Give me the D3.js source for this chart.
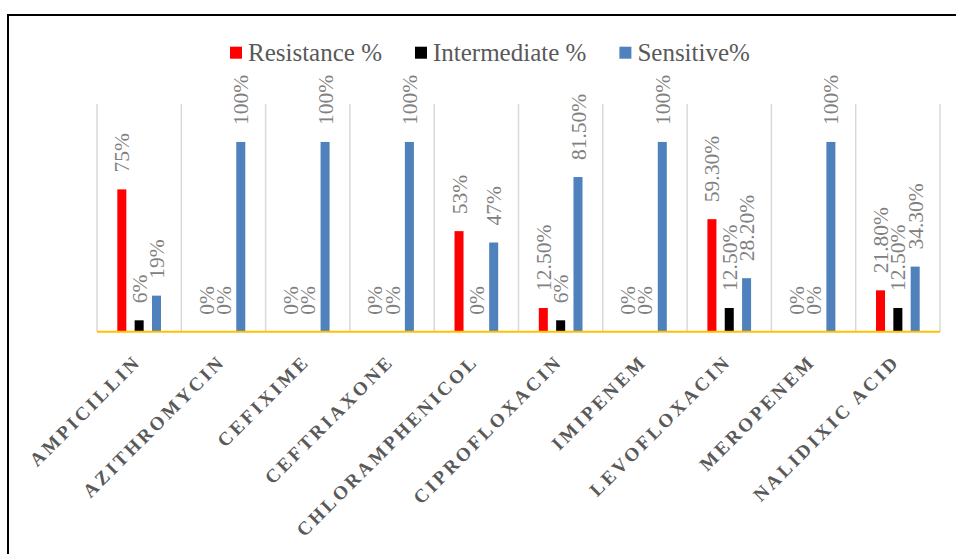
<!DOCTYPE html>
<html>
<head>
<meta charset="utf-8">
<script src="https://cdn.jsdelivr.net/npm/d3@7"></script>
<style>
  html, body { margin: 0; padding: 0; background: #fff; }
  svg { display: block; }
</style>
</head>
<body>
<svg id="chart" width="956" height="554"></svg>
<script>
// Antibiotic susceptibility profile
const categories = ["AMPICILLIN", "AZITHROMYCIN", "CEFIXIME", "CEFTRIAXONE", "CHLORAMPHENICOL",
  "CIPROFLOXACIN", "IMIPENEM", "LEVOFLOXACIN", "MEROPENEM", "NALIDIXIC ACID"];
const seriesNames = ["Resistance %", "Intermediate %", "Sensitive%"];
const resistance   = [75, 0, 0, 0, 53, 12.5, 0, 59.3, 0, 21.8];
const intermediate = [6, 0, 0, 0, 0, 6, 0, 12.5, 0, 12.5];
const sensitive    = [19, 100, 100, 100, 47, 81.5, 100, 28.2, 100, 34.3];
const seriesColors = ["#ff0000", "#000000", "#4f81bd"];

const seriesValues = [resistance, intermediate, sensitive];

const svg = d3.select("#chart");
const W = 956, H = 554;
const plot = { left: 97, right: 940, top: 104, bottom: 331.7 };

// outer frame (top and left edges)
svg.append("path")
  .attr("d", `M8,${H} L8,15 L${W},15`)
  .attr("fill", "none").attr("stroke", "#000").attr("stroke-width", 2);

const x0 = d3.scaleBand().domain(categories).range([plot.left, plot.right]).padding(0);
const x1 = d3.scaleBand().domain(seriesNames).range([-26, 26]).paddingInner(0.48).paddingOuter(0.24);
const y = d3.scaleLinear().domain([0, 1.2]).range([plot.bottom, plot.top]);

// vertical gridlines at category boundaries
const bounds = categories.map(c => x0(c)).concat([plot.right]);
svg.append("g").selectAll("line").data(bounds).join("line")
  .attr("x1", d => d).attr("x2", d => d)
  .attr("y1", plot.top).attr("y2", plot.bottom)
  .attr("stroke", "#d9d9d9").attr("stroke-width", 1.5);

const fmt = v => (Number.isInteger(v) ? v : v.toFixed(2)) + "%";

const groups = svg.append("g").selectAll("g").data(categories).join("g")
  .attr("transform", c => `translate(${x0(c) + x0.bandwidth() / 2},0)`);

const rows = (c, i) => seriesNames.map((s, k) => ({ s, k, v: seriesValues[k][i] / 100 }));

groups.selectAll("rect").data(rows).join("rect")
  .attr("x", d => x1(d.s))
  .attr("width", x1.bandwidth())
  .attr("y", d => y(d.v))
  .attr("height", d => y(0) - y(d.v))
  .attr("fill", d => seriesColors[d.k]);

// rotated value labels above each bar
groups.selectAll("text").data(rows).join("text")
  .attr("transform", d => `translate(${x1(d.s) + x1.bandwidth() / 2},${y(d.v) - 17}) rotate(-90)`)
  .attr("dy", "0.35em")
  .attr("text-anchor", "start")
  .attr("font-family", "'Liberation Serif', serif")
  .attr("font-size", 21.5)
  .attr("fill", "#808080")
  .text(d => fmt(d.v * 100));

// category axis baseline
svg.append("line")
  .attr("x1", plot.left).attr("x2", plot.right)
  .attr("y1", plot.bottom).attr("y2", plot.bottom)
  .attr("stroke", "#ffc000").attr("stroke-width", 2);

// slanted category labels
svg.append("g").selectAll("text").data(categories).join("text")
  .attr("transform", c => `translate(${x0(c) + x0.bandwidth() / 2 + 3},${plot.bottom + 31}) rotate(-45)`)
  .attr("text-anchor", "end")
  .attr("font-family", "'Liberation Serif', serif")
  .attr("font-weight", "bold")
  .attr("font-size", 19)
  .attr("letter-spacing", 3)
  .attr("fill", "#595959")
  .text(c => c);

// legend
const legend = svg.append("g");
let lx = 230;
seriesNames.forEach((s, k) => {
  legend.append("rect").attr("x", lx).attr("y", 46.7).attr("width", 12).attr("height", 12)
    .attr("fill", seriesColors[k]);
  const t = legend.append("text").attr("x", lx + 18).attr("y", 61)
    .attr("font-family", "'Liberation Serif', serif").attr("font-size", 25)
    .attr("fill", "#595959").text(s);
  lx += 18 + t.node().getComputedTextLength() + 33;
});
</script>
</body>
</html>
